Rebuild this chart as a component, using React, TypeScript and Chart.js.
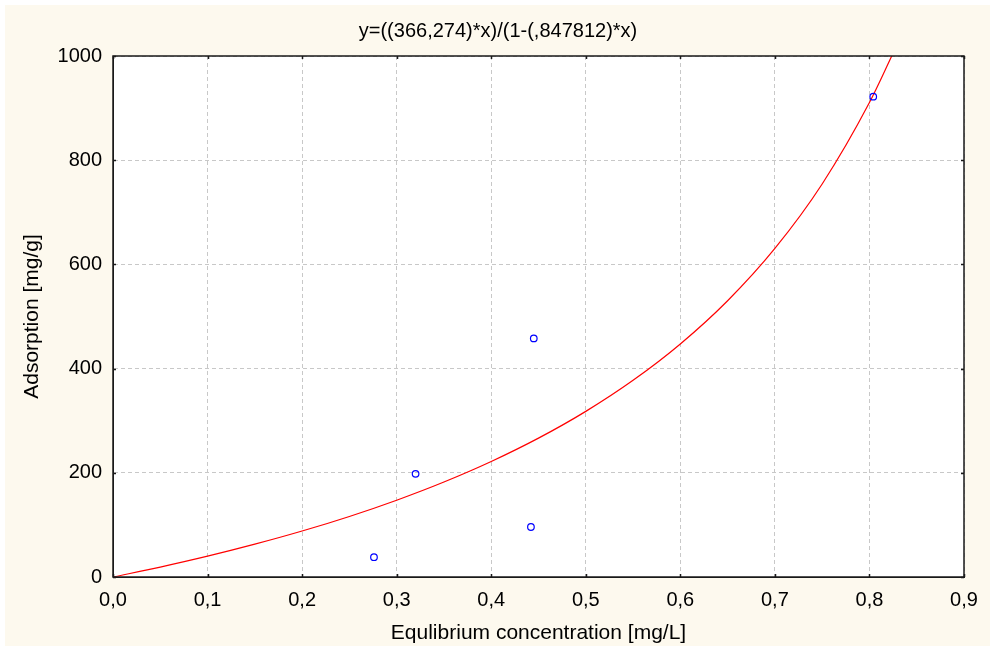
import React, { useEffect, useRef } from "react";
import { Chart, registerables } from "chart.js";

Chart.register(...registerables);

const titleText = "y=((366,274)*x)/(1-(,847812)*x)";
const xAxisTitle = "Equlibrium concentration [mg/L]";
const yAxisTitle = "Adsorption [mg/g]";

// Observed data points
const obsX = [0.276, 0.32, 0.445, 0.442, 0.804];
const obsY = [38, 198, 458, 96, 922];

// Fitted curve values read along x
const curveX = [0, 0.05, 0.1, 0.15, 0.2, 0.25, 0.3, 0.35, 0.4, 0.45, 0.5, 0.55, 0.6, 0.65, 0.7, 0.75, 0.8, 0.825];
const curveY = [0, 19.1, 40.0, 63.0, 88.2, 116.2, 147.4, 182.3, 221.7, 266.5, 317.9, 377.5, 447.3, 530.3, 630.7, 754.4, 910.7, 1005.4];

const xTicks = [0, 0.1, 0.2, 0.3, 0.4, 0.5, 0.6, 0.7, 0.8, 0.9];
const yTicks = [0, 200, 400, 600, 800, 1000];

const FONT = "'Liberation Sans', Arial, sans-serif";
const BG = "#FDF9EE";
const GRID = "#c8c8c8";

const bgPlugin = {
  id: "bgPlugin",
  beforeDraw(chart: any) {
    const ctx = chart.ctx;
    const { left, top, right, bottom } = chart.chartArea;
    ctx.save();
    ctx.fillStyle = "#ffffff";
    ctx.fillRect(0, 0, chart.width, chart.height);
    ctx.fillStyle = BG;
    ctx.fillRect(5, 5, chart.width - 5, chart.height - 5);
    ctx.fillStyle = "#ffffff";
    ctx.fillRect(left, top, right - left, bottom - top);
    ctx.restore();
  },
  afterDraw(chart: any) {
    const ctx = chart.ctx;
    const { left, top, right, bottom } = chart.chartArea;
    const xs = chart.scales.x;
    const ys = chart.scales.y;
    ctx.save();
    ctx.strokeStyle = "#1a1a1a";
    ctx.lineWidth = 1.5;
    ctx.setLineDash([]);
    ctx.strokeRect(Math.round(left), Math.round(top), Math.round(right - left), Math.round(bottom - top));
    ctx.beginPath();
    xTicks.forEach((v) => {
      const px = Math.round(xs.getPixelForValue(v)) + 0.5;
      ctx.moveTo(px, bottom);
      ctx.lineTo(px, bottom - 3);
      ctx.moveTo(px, top);
      ctx.lineTo(px, top + 3);
    });
    yTicks.forEach((v) => {
      const py = Math.round(ys.getPixelForValue(v)) + 0.5;
      ctx.moveTo(left, py);
      ctx.lineTo(left + 3, py);
      ctx.moveTo(right, py);
      ctx.lineTo(right - 3, py);
    });
    ctx.stroke();
    ctx.fillStyle = "#000000";
    ctx.font = `20px ${FONT}`;
    ctx.textAlign = "center";
    ctx.textBaseline = "middle";
    ctx.fillText(titleText, 498, 31);
    ctx.restore();
  },
};

export default function App() {
  const ref = useRef<HTMLCanvasElement | null>(null);

  useEffect(() => {
    if (!ref.current) return;
    const chart = new Chart(ref.current, {
      type: "scatter",
      data: {
        datasets: [
          {
            label: "fit",
            data: curveX.map((x, i) => ({ x, y: curveY[i] })),
            showLine: true,
            borderColor: "#ff0000",
            borderWidth: 1.2,
            pointRadius: 0,
            cubicInterpolationMode: "monotone",
            fill: false,
            order: 2,
          },
          {
            label: "data",
            data: obsX.map((x, i) => ({ x, y: obsY[i] })),
            showLine: false,
            pointStyle: "circle",
            pointRadius: 3.3,
            borderColor: "#0000ff",
            backgroundColor: "rgba(0,0,0,0)",
            borderWidth: 1.2,
            order: 1,
          },
        ],
      },
      options: {
        responsive: false,
        animation: false,
        layout: { padding: { left: 0, top: 56, right: 26, bottom: 0 } },
        plugins: {
          legend: { display: false },
          tooltip: { enabled: false },
          title: { display: false },
        },
        scales: {
          x: {
            type: "linear",
            min: 0,
            max: 0.9,
            afterBuildTicks: (s: any) => {
              s.ticks = xTicks.map((v) => ({ value: v }));
            },
            afterFit: (s: any) => {
              s.height = 69;
            },
            ticks: {
              padding: 11,
              color: "#000",
              font: { family: FONT, size: 20 },
              callback: (v: any) => Number(v).toFixed(1).replace(".", ","),
            },
            grid: {
              color: GRID,
              lineWidth: 1,
              drawTicks: false,
            },
            border: { color: "#1a1a1a", width: 1, dash: [4, 3] as any },
            title: {
              display: true,
              text: xAxisTitle,
              color: "#000",
              font: { family: FONT, size: 21 },
              padding: { top: 0, bottom: 0 },
            },
          },
          y: {
            type: "linear",
            min: 0,
            max: 1000,
            afterBuildTicks: (s: any) => {
              s.ticks = yTicks.map((v) => ({ value: v }));
            },
            afterFit: (s: any) => {
              s.width = 113;
            },
            ticks: {
              padding: 11,
              color: "#000",
              font: { family: FONT, size: 20 },
              callback: (v: any) => String(v),
            },
            grid: {
              color: GRID,
              lineWidth: 1,
              drawTicks: false,
            },
            border: { color: "#1a1a1a", width: 1, dash: [4, 3] as any },
            title: {
              display: true,
              text: yAxisTitle,
              color: "#000",
              font: { family: FONT, size: 21 },
              padding: { top: 20, bottom: 0 },
            },
          },
        },
      } as any,
      plugins: [bgPlugin],
    });
    return () => chart.destroy();
  }, []);

  return (
    <div style={{ position: "fixed", left: 0, top: 0, width: 990, height: 646 }}>
      <canvas ref={ref} width={990} height={646} />
    </div>
  );
}
